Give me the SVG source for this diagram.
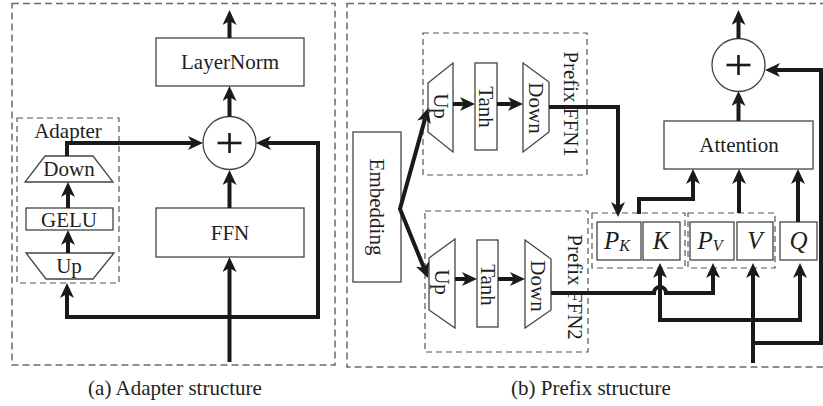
<svg xmlns="http://www.w3.org/2000/svg" width="823" height="406" viewBox="0 0 823 406">
<style>
text{font-family:"Liberation Serif","Times New Roman",serif;font-size:21px;fill:#1e1e1e}
.box{fill:#fff;stroke:#444;stroke-width:1.3}
.panel{fill:none;stroke:#6a6a6a;stroke-width:1.5;stroke-dasharray:7 4}
.grp{fill:none;stroke:#555;stroke-width:1.2;stroke-dasharray:6 4}
.c{fill:none;stroke:#1a1a1a;stroke-width:4;stroke-linejoin:miter}
.plus{stroke:#1a1a1a;stroke-width:2.6}
.it{font-style:italic;font-size:25px}
.sub{font-style:italic;font-size:16px}
</style>
<defs>
<marker id="ah" viewBox="0 0 15 14" markerUnits="userSpaceOnUse" markerWidth="15" markerHeight="14" refX="4" refY="7" orient="auto-start-reverse">
<path d="M0,0 L15,7 L0,14 L4,7 z" fill="#1a1a1a"/>
</marker>
</defs>

<!-- panels -->
<rect class="panel" x="12" y="3.5" width="323" height="361.5"/>
<rect class="panel" x="347" y="3.5" width="480" height="363.5"/>

<!-- (a) Adapter structure -->
<g id="layernorm"><rect class="box" x="156" y="38" width="148" height="48"/><text x="230" y="69" text-anchor="middle">LayerNorm</text></g>
<g id="sum-a"><circle class="box" cx="229.5" cy="143" r="26.5"/><line class="plus" x1="217.5" y1="143" x2="241.5" y2="143"/><line class="plus" x1="229.5" y1="133" x2="229.5" y2="153"/></g>
<g id="ffn"><rect class="box" x="156" y="208" width="148" height="49"/><text x="230" y="240" text-anchor="middle">FFN</text></g>
<g id="adapter"><rect class="grp" x="17" y="118" width="102" height="165"/><text x="68" y="138" text-anchor="middle">Adapter</text></g>
<g id="adapter-down"><polygon class="box" points="45,156 93,156 113,182 25,182"/><text x="69" y="176" text-anchor="middle">Down</text></g>
<g id="adapter-gelu"><rect class="box" x="26" y="208" width="87" height="22"/><text x="69" y="227" text-anchor="middle">GELU</text></g>
<g id="adapter-up"><polygon class="box" points="26,253 114,253 93,279 46,279"/><text x="69" y="273" text-anchor="middle">Up</text></g>
<text x="175" y="395" text-anchor="middle">(a) Adapter structure</text>

<!-- (b) Prefix structure -->
<g id="embedding"><rect class="box" x="353" y="132" width="48" height="150"/><text transform="translate(377,207) rotate(90)" x="0" y="7" text-anchor="middle">Embedding</text></g>

<g id="prefix-ffn1">
<rect class="grp" x="423" y="33" width="164" height="142"/>
<text transform="translate(571,104) rotate(90)" x="0" y="7" text-anchor="middle">Prefix FFN1</text>
<polygon class="box" points="428,83 453,63 453,152 428,132"/>
<text transform="translate(441,106) rotate(90)" x="0" y="7" text-anchor="middle">Up</text>
<rect class="box" x="475" y="63" width="22" height="87"/>
<text transform="translate(486,107) rotate(90)" x="0" y="7" text-anchor="middle">Tanh</text>
<polygon class="box" points="523,63 549,82 549,132 523,152"/>
<text transform="translate(536,108) rotate(90)" x="0" y="7" text-anchor="middle">Down</text>
</g>

<g id="prefix-ffn2">
<rect class="grp" x="425" y="211" width="163" height="141"/>
<text transform="translate(575,287) rotate(90)" x="0" y="7" text-anchor="middle">Prefix FFN2</text>
<polygon class="box" points="429,258 455,239 455,328 429,310"/>
<text transform="translate(442,282) rotate(90)" x="0" y="7" text-anchor="middle">Up</text>
<rect class="box" x="477" y="240" width="21" height="87"/>
<text transform="translate(488,285) rotate(90)" x="0" y="7" text-anchor="middle">Tanh</text>
<polygon class="box" points="525,240 551,259 551,310 525,328"/>
<text transform="translate(538,286) rotate(90)" x="0" y="7" text-anchor="middle">Down</text>
</g>

<g id="pk-k">
<rect class="grp" x="592" y="213" width="93" height="55"/>
<rect class="box" x="597" y="222" width="44" height="38"/>
<text x="617" y="249" text-anchor="middle"><tspan class="it">P</tspan><tspan class="sub" dy="2">K</tspan></text>
<rect class="box" x="643" y="222" width="37" height="38"/>
<text x="661" y="249" text-anchor="middle" class="it">K</text>
</g>
<g id="pv-v">
<rect class="grp" x="688" y="213" width="87" height="55"/>
<rect class="box" x="690" y="222" width="44" height="38"/>
<text x="710" y="249" text-anchor="middle"><tspan class="it">P</tspan><tspan class="sub" dy="2">V</tspan></text>
<rect class="box" x="737" y="222" width="36" height="38"/>
<text x="755" y="249" text-anchor="middle" class="it">V</text>
</g>
<g id="q"><rect class="box" x="780" y="222" width="37" height="38"/><text x="798.5" y="249" text-anchor="middle" class="it">Q</text></g>
<g id="attention"><rect class="box" x="664" y="121" width="149" height="48"/><text x="739" y="152" text-anchor="middle">Attention</text></g>
<g id="sum-b"><circle class="box" cx="738.5" cy="65" r="26.5"/><line class="plus" x1="726.5" y1="65" x2="750.5" y2="65"/><line class="plus" x1="738.5" y1="55" x2="738.5" y2="75"/></g>
<text x="591" y="395" text-anchor="middle">(b) Prefix structure</text>

<g id="connectors">
<!-- (a) -->
<path class="c" d="M229.5,38 V21" marker-end="url(#ah)"/>
<path class="c" d="M229.5,116.5 V97" marker-end="url(#ah)"/>
<path class="c" d="M229.5,208 V181" marker-end="url(#ah)"/>
<path class="c" d="M229.5,362 V268" marker-end="url(#ah)"/>
<path class="c" d="M67,156 V143 H192" marker-end="url(#ah)"/>
<path class="c" d="M67,294 V317 H318 V143 H267" marker-start="url(#ah)" marker-end="url(#ah)"/>
<path class="c" d="M68,208 V193" marker-end="url(#ah)"/>
<path class="c" d="M68,253 V241" marker-end="url(#ah)"/>
<!-- (b) -->
<path class="c" d="M425.1,118.6 L400,209 L423.9,267.8" marker-start="url(#ah)" marker-end="url(#ah)"/>
<path class="c" d="M453,104 V104 H464" marker-end="url(#ah)"/>
<path class="c" d="M497,104 H512" marker-end="url(#ah)"/>
<path class="c" d="M455,279 H466" marker-end="url(#ah)"/>
<path class="c" d="M498,279 H514" marker-end="url(#ah)"/>
<path class="c" d="M549,107 H618 V206" marker-end="url(#ah)"/>
<path class="c" d="M639,214 V199 H693 V180" marker-end="url(#ah)"/>
<path class="c" d="M739,213 V180" marker-end="url(#ah)"/>
<path class="c" d="M798,222 V180" marker-end="url(#ah)"/>
<path class="c" d="M738.5,121 V102" marker-end="url(#ah)"/>
<path class="c" d="M738.5,38.5 V21" marker-end="url(#ah)"/>
<path class="c" d="M551,293 H654 A6,6 0 0 1 666,293 H713 V274" marker-end="url(#ah)"/>
<path class="c" d="M660,274 V320 H800 V274" marker-start="url(#ah)" marker-end="url(#ah)"/>
<path class="c" d="M753,363 V274" marker-end="url(#ah)"/>
<path class="c" d="M753,343 H821 V70 H776" marker-end="url(#ah)"/>
</g>
</svg>
